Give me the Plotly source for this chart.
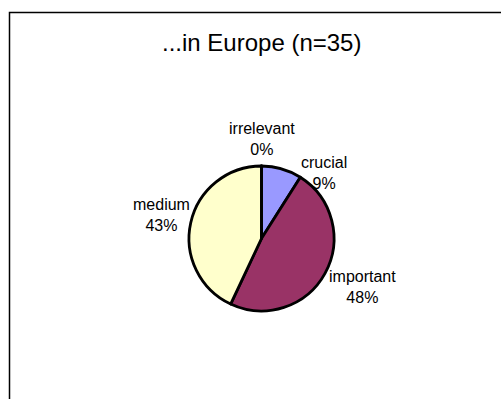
import plotly.graph_objects as go

# ---- data ----
categories = ["crucial", "important", "medium", "irrelevant"]
values = [9, 48, 43, 0]
colors = ["#9999FF", "#993366", "#FFFFCC", "#FFFFFF"]
title_text = "...in Europe (n=35)"

# ---- layout constants (pixels) ----
W, H = 501, 399
CX, CY, R = 261.5, 238.5, 72.5
# label centres (pixels from top-left), per category
LABEL_POS = {
    "crucial": (324, 173),
    "important": (362, 287),
    "medium": (161, 215),
    "irrelevant": (261.5, 139),
}

fig = go.Figure()
fig.add_trace(go.Pie(
    labels=categories,
    values=values,
    sort=False,
    direction="clockwise",
    rotation=0,
    marker=dict(colors=colors, line=dict(color="black", width=2.8)),
    textinfo="none",
    hoverinfo="label+percent",
    showlegend=False,
    domain=dict(x=[(CX - R) / W, (CX + R) / W],
                y=[(H - CY - R) / H, (H - CY + R) / H]),
))

total = sum(values)
annotations = []
for cat, v in zip(categories, values):
    px, py = LABEL_POS[cat]
    pct = round(v / total * 100)
    annotations.append(dict(
        x=px / W, y=1 - py / H, xref="paper", yref="paper",
        xanchor="center", yanchor="middle", showarrow=False,
        text=f"{cat}<br>{pct}%", align="center",
        font=dict(family="Liberation Sans, Arial", size=16, color="black"),
    ))
annotations.append(dict(
    x=261.5 / W, y=1 - 42 / H, xref="paper", yref="paper",
    xanchor="center", yanchor="middle", showarrow=False,
    text=title_text,
    font=dict(family="Liberation Sans, Arial", size=24, color="black"),
))

fig.update_layout(
    width=W, height=H,
    margin=dict(l=0, r=0, t=0, b=0),
    paper_bgcolor="white", plot_bgcolor="white",
    annotations=annotations,
    shapes=[dict(type="rect", xref="paper", yref="paper",
                 x0=9.5 / W, x1=1.2, y0=-0.2, y1=1 - 12.5 / H,
                 line=dict(color="black", width=1.5))],
)

fig.write_html(
    "out.html",
    config={"displayModeBar": False},
    post_script="document.body.style.margin='0';document.body.style.overflow='hidden';",
)
